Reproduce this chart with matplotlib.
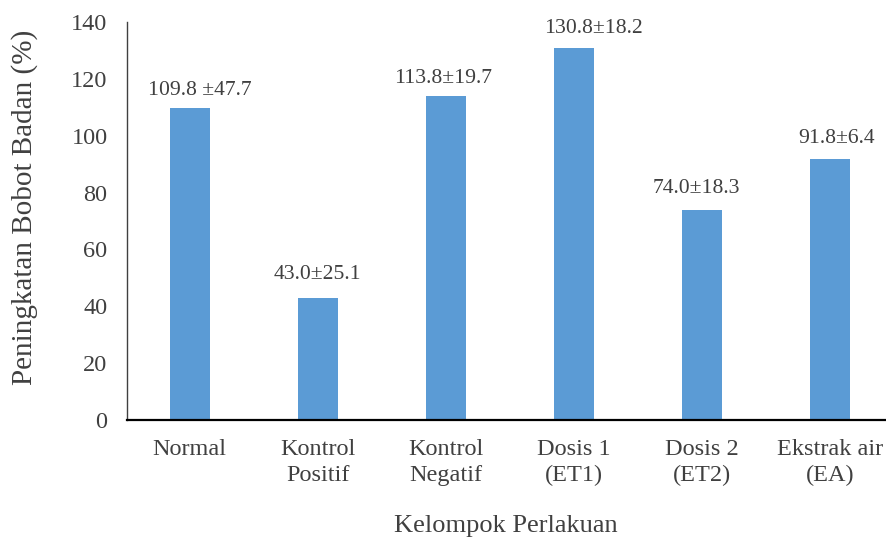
import matplotlib
matplotlib.use("Agg")
import matplotlib.pyplot as plt

plt.rcParams['font.family'] = ['Liberation Serif', 'DejaVu Serif']

categories = ["Normal", "Kontrol\nPositif", "Kontrol\nNegatif", "Dosis 1\n(ET1)", "Dosis 2\n(ET2)", "Ekstrak air\n(EA)"]
means = [109.8, 43.0, 113.8, 130.8, 74.0, 91.8]
sds = [47.7, 25.1, 19.7, 18.2, 18.3, 6.4]
value_labels = ["109.8 ±47.7", "43.0±25.1", "113.8±19.7", "130.8±18.2", "74.0±18.3", "91.8±6.4"]

# manual nudges of the value labels (points)
label_dx = [7, 0, -2, 14, -4, 5]
label_dy = [9, 13.5, 9.5, 11, 12, 11.5]

fig = plt.figure(figsize=(8.86, 5.39), dpi=100)
ax = fig.add_axes([127/886, 119/539, 758/886, 398/539])

x = list(range(len(categories)))
bars = ax.bar(x, means, width=0.31, color="#5B9BD5", zorder=2)

for xi, m, lab, dx, dy in zip(x, means, value_labels, label_dx, label_dy):
    ax.annotate(lab, (xi, m), xytext=(dx, dy), textcoords="offset points",
                ha="center", va="baseline", fontsize=15.6, color="#404040")

ax.set_xlim(-0.49, 5.43)
ax.set_ylim(0, 140)
ax.set_yticks(range(0, 141, 20))
ax.set_xticks(x)
ax.set_xticklabels(categories, fontsize=17.5, color="#404040", linespacing=1.27)
ax.tick_params(axis="y", labelsize=17.5, labelcolor="#404040", length=0, pad=14)
ax.tick_params(axis="x", length=0, pad=14)

for s in ["top", "right"]:
    ax.spines[s].set_visible(False)
ax.spines["left"].set_color("#404040")
ax.spines["left"].set_linewidth(1.0)
ax.spines["bottom"].set_color("black")
ax.spines["bottom"].set_linewidth(1.6)

ax.set_ylabel("Peningkatan Bobot Badan (%)", fontsize=21, color="#404040")
ax.yaxis.set_label_coords(-0.117, 0.533)
ax.set_xlabel("Kelompok Perlakuan", fontsize=19, color="#404040", labelpad=21)

fig.savefig("out.png", dpi=100)
